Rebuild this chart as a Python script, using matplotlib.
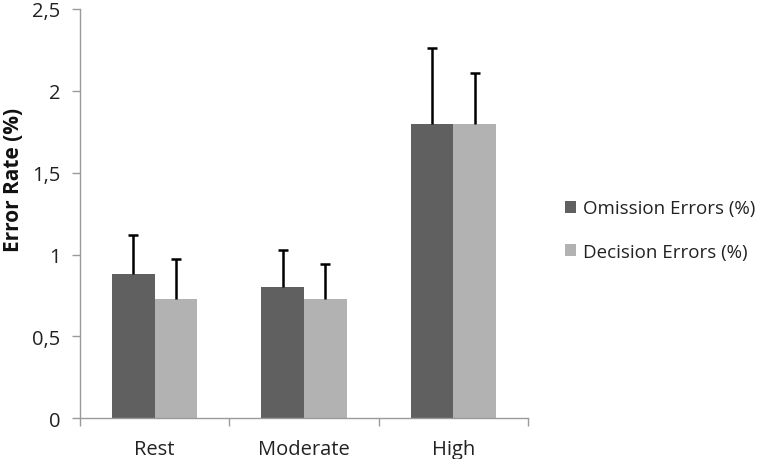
import matplotlib
matplotlib.use("Agg")
import matplotlib.pyplot as plt
import numpy as np

categories = ["Rest", "Moderate", "High"]
omission = [0.88, 0.80, 1.80]
omission_err = [0.24, 0.23, 0.46]
decision = [0.73, 0.73, 1.80]
decision_err = [0.24, 0.21, 0.31]
series_labels = ["Omission Errors (%)", "Decision Errors (%)"]
yticks = [0, 0.5, 1, 1.5, 2, 2.5]
ytick_labels = ["0", "0,5", "1", "1,5", "2", "2,5"]

plt.rcParams['font.family'] = ['Open Sans', 'DejaVu Sans']

fig = plt.figure(figsize=(7.64, 4.60), dpi=100)
ax = fig.add_axes([80/764, 40.7/460, 448/764, 409.3/460])

x = np.arange(len(categories))
w = 0.285
dark = "#606060"
light = "#b2b2b2"
ax.bar(x - w/2, omission, w, color=dark, label=series_labels[0], zorder=2)
ax.bar(x + w/2, decision, w, color=light, label=series_labels[1], zorder=2)
for xs, vals, errs in [(x - w/2, omission, omission_err), (x + w/2, decision, decision_err)]:
    eb = ax.errorbar(xs, vals, yerr=[np.zeros(3), errs], fmt='none',
                     ecolor='black', elinewidth=1.8, capsize=3.5, capthick=1.8, zorder=3)
    caps = eb[1]
    if len(caps) == 2:
        caps[0].set_visible(False)

ax.set_xlim(-0.5, 2.5)
ax.set_ylim(0, 2.5)
ax.set_yticks(yticks)
ax.set_yticklabels(ytick_labels)
ax.set_xticks(x)
ax.set_xticklabels(categories)
ax.set_xticks(np.arange(-0.5, 3.0, 1.0), minor=True)
ax.tick_params(axis='x', which='major', length=0, pad=15, labelsize=14.5, labelcolor='#222222')
ax.tick_params(axis='x', which='minor', length=6, color='#9a9a9a', width=1)
ax.tick_params(axis='y', length=6, color='#9a9a9a', width=1, pad=8, labelsize=14.5, labelcolor='#222222')

for s in ['top', 'right']:
    ax.spines[s].set_visible(False)
for s in ['left', 'bottom']:
    ax.spines[s].set_color('#9a9a9a')
    ax.spines[s].set_linewidth(1)

ax.set_ylabel("Error Rate (%)", fontsize=15, fontweight='bold', color='#111111')
ax.yaxis.set_label_coords(-0.125, 0.585)

leg = ax.legend(loc='center left', bbox_to_anchor=(1.044, 0.46), frameon=False,
                fontsize=13.5, handlelength=0.6, handleheight=0.6, handletextpad=0.4,
                labelspacing=1.35, labelcolor='#222222')

fig.savefig("out.png", dpi=100)
